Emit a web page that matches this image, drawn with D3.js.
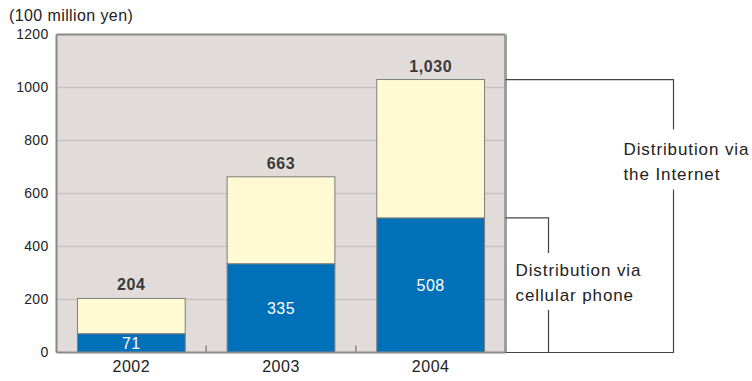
<!DOCTYPE html>
<html>
<head>
<meta charset="utf-8">
<script src="https://cdn.jsdelivr.net/npm/d3@7"></script>
<style>
  body { margin: 0; background: #fff; }
  text { font-family: "Liberation Sans", Arial, sans-serif; }
</style>
</head>
<body>
<div id="chart"></div>
<script>
// data
var years = ["2002", "2003", "2004"];
var cellular = [71, 335, 508];
var internet = [133, 328, 522];
var totals = [204, 663, 1030];
var yTicks = [0, 200, 400, 600, 800, 1000, 1200];

var W = 752, H = 381;
var margin = {top: 34.5, left: 56.5},
    width = 449, height = 318;

var svg = d3.select("#chart")
  .append("svg")
    .attr("width", W)
    .attr("height", H);

var g = svg.append("g")
  .attr("transform", "translate(" + margin.left + "," + margin.top + ")");

var x = d3.scaleBand()
  .domain(years)
  .range([0, width])
  .paddingInner(0.28)
  .paddingOuter(0.14);

var y = d3.scaleLinear()
  .domain([0, 1200])
  .range([height, 0]);

// plot background
g.append("rect")
  .attr("width", width)
  .attr("height", height)
  .attr("fill", "#e1dcda");

// gridlines
g.selectAll(".grid")
  .data(yTicks.slice(1, -1))
  .enter()
  .append("line")
    .attr("x1", 0)
    .attr("x2", width)
    .attr("y1", function(d) { return y(d); })
    .attr("y2", function(d) { return y(d); })
    .attr("stroke", "#c6c2c1")
    .attr("stroke-width", 1.5);

// y axis labels
var yAxis = g.append("g")
  .call(d3.axisLeft(y).tickValues(yTicks).tickFormat(d3.format("d")).tickSize(0).tickPadding(8));
yAxis.select(".domain").remove();
yAxis.selectAll("text")
  .style("font-size", "14px")
  .style("letter-spacing", "0.3px")
  .attr("fill", "#222");

// frame: left, top, right
g.append("line").attr("x1", 0).attr("x2", 0).attr("y1", 0).attr("y2", height)
  .attr("stroke", "#8a8888").attr("stroke-width", 2);
g.append("line").attr("x1", 0).attr("x2", width).attr("y1", 0).attr("y2", 0)
  .attr("stroke", "#8a8888").attr("stroke-width", 2);
g.append("line").attr("x1", width).attr("x2", width).attr("y1", 0).attr("y2", height)
  .attr("stroke", "#a09e9d").attr("stroke-width", 3);

// bars: cellular
g.selectAll(".cell")
  .data(years)
  .enter()
  .append("rect")
    .attr("x", function(d) { return x(d); })
    .attr("y", function(d, i) { return y(cellular[i]); })
    .attr("width", x.bandwidth())
    .attr("height", function(d, i) { return y(0) - y(cellular[i]); })
    .attr("fill", "#0070b9")
    .attr("stroke", "#7d7d7d")
    .attr("stroke-width", 1);

// bars: internet
g.selectAll(".net")
  .data(years)
  .enter()
  .append("rect")
    .attr("x", function(d) { return x(d); })
    .attr("y", function(d, i) { return y(cellular[i] + internet[i]); })
    .attr("width", x.bandwidth())
    .attr("height", function(d, i) { return y(cellular[i]) - y(cellular[i] + internet[i]); })
    .attr("fill", "#fffad3")
    .attr("stroke", "#7d7d7d")
    .attr("stroke-width", 1);

// x axis
var xAxis = g.append("g")
  .attr("transform", "translate(0," + height + ")")
  .call(d3.axisBottom(x).tickSize(0).tickPadding(8));
xAxis.select(".domain").remove();
xAxis.selectAll("text")
  .style("font-size", "16px")
  .style("letter-spacing", "0.5px")
  .attr("fill", "#222");

g.append("line").attr("x1", 0).attr("x2", width).attr("y1", height).attr("y2", height)
  .attr("stroke", "#8a8888").attr("stroke-width", 2);

// small separator ticks between categories
var step = x.step();
g.selectAll(".sep")
  .data(years.slice(1))
  .enter()
  .append("line")
    .attr("x1", function(d) { return x(d) - (step - x.bandwidth()) / 2; })
    .attr("x2", function(d) { return x(d) - (step - x.bandwidth()) / 2; })
    .attr("y1", height - 7)
    .attr("y2", height)
    .attr("stroke", "#8a8888")
    .attr("stroke-width", 1.5);

// value labels
g.selectAll(".tot")
  .data(years)
  .enter()
  .append("text")
    .attr("x", function(d) { return x(d) + x.bandwidth() / 2; })
    .attr("y", function(d, i) { return y(totals[i]) - 8; })
    .attr("text-anchor", "middle")
    .style("font-size", "16px")
    .style("font-weight", "bold")
    .style("letter-spacing", "0.6px")
    .attr("fill", "#3a3a3a")
    .text(function(d, i) { return d3.format(",")(totals[i]); });

g.selectAll(".cv")
  .data(years)
  .enter()
  .append("text")
    .attr("x", function(d) { return x(d) + x.bandwidth() / 2; })
    .attr("y", function(d, i) { return (y(0) + y(cellular[i])) / 2 + 6; })
    .attr("text-anchor", "middle")
    .style("font-size", "16px")
    .style("letter-spacing", "0.5px")
    .attr("fill", "#fff")
    .text(function(d, i) { return cellular[i]; });

// unit label
svg.append("text")
  .attr("x", 9)
  .attr("y", 21)
  .style("font-size", "16px")
  .style("letter-spacing", "0.4px")
  .attr("fill", "#222")
  .text("(100 million yen)");

// brackets
var last = years.length - 1;
var yCell = y(cellular[last]), yTot = y(totals[last]), y0 = y(0);
var bx1 = width + 43, bx2 = width + 168;
var br = g.append("g").attr("fill", "none").attr("stroke", "#444").attr("stroke-width", 1.2);

br.append("path").attr("d", "M" + width + "," + yCell + "H" + bx1 + "V" + (yCell + 35));
br.append("path").attr("d", "M" + bx1 + "," + (yCell + 92) + "V" + y0);
br.append("path").attr("d", "M" + width + "," + yTot + "H" + bx2 + "V" + (yTot + 50));
br.append("path").attr("d", "M" + bx2 + "," + (yTot + 110) + "V" + y0 + "H" + width);

var ann = g.append("g").style("font-size", "17px").style("letter-spacing", "0.9px").attr("fill", "#222");
ann.append("text").attr("x", width + 10).attr("y", yCell + 58).text("Distribution via");
ann.append("text").attr("x", width + 10).attr("y", yCell + 83).text("cellular phone");
ann.append("text").attr("x", width + 118).attr("y", yTot + 75).text("Distribution via");
ann.append("text").attr("x", width + 118).attr("y", yTot + 100).text("the Internet");
</script>
</body>
</html>
